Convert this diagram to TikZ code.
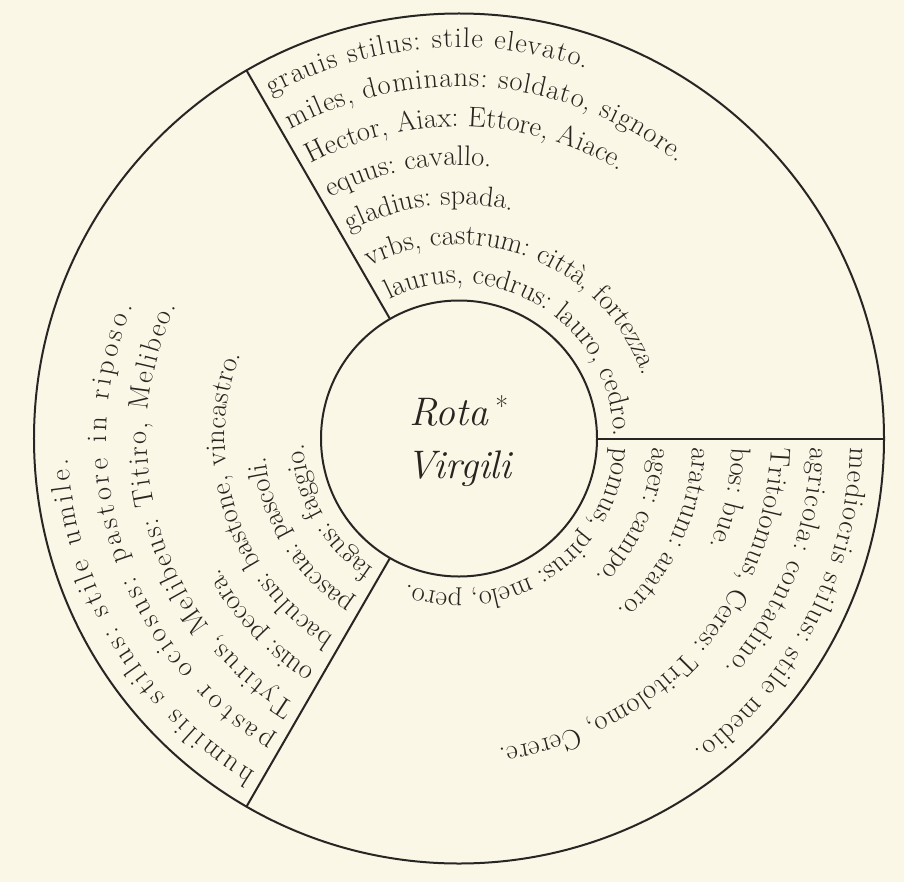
\documentclass[tikz,border=0pt]{standalone}
\usetikzlibrary{decorations.text}
\definecolor{paper}{RGB}{250,247,230}
\definecolor{ink}{RGB}{40,38,36}
\definecolor{txt}{RGB}{40,36,32}
\newcommand\lfont{\fontsize{28.5}{34}\selectfont}
% natural line: start sector angle, radius, text
\newcommand\arcline[3]{%
  \pgfmathsetmacro\sa{#1-515.7/#2}%
  \path[decorate,decoration={text along path,text={|\lfont\color{txt}|#3}}]
    (\sa:#2) arc[start angle=\sa,end angle=\sa-125,radius=#2];}
% justified line: start sector angle, radius, end angle, text
\newcommand\arcfit[4]{%
  \pgfmathsetmacro\sa{#1-515.7/#2}%
  \path[decorate,decoration={text along path,text align={fit to path},
      text={|\lfont\color{txt}|#4}}]
    (\sa:#2) arc[start angle=\sa,end angle=#3,radius=#2];}
\begin{document}
\begin{tikzpicture}[x=1bp,y=1bp,
  ring/.style={circle,draw=ink,line width=2bp,inner sep=0pt,outer sep=0pt},
  spoke/.style={draw=ink,line width=2bp},
  title/.style={font=\fontsize{40}{48}\selectfont\itshape,text=txt,inner sep=0pt,anchor=base}]
\fill[paper] (0,-882) rectangle (904,0);
\useasboundingbox (0,-882) rectangle (904,0);
\begin{scope}[shift={(459,-438.5)}]
  \node[ring,minimum size=850bp] (outer) at (0,0) {};
  \node[ring,minimum size=276bp] (inner) at (0,0) {};
  \draw[spoke] (inner.120) -- (outer.120);
  \draw[spoke] (inner.0) -- (outer.0);
  \draw[spoke] (inner.240) -- (outer.240);
  \node[title] (rota) at (0,13) {Rota\,\textsuperscript{\upshape *}};
  \node[title] (virgili) at (0,-40) {Virgili};
  % top sector
  \arcfit{120}{391}{71}{grauis stilus: stile elevato.}
  \arcfit{120}{352}{51.5}{miles, dominans: soldato, signore.}
  \arcfit{120}{312}{59}{Hector, Aiax: Ettore, Aiace.}
  \arcline{120}{273}{equus: cavallo.}
  \arcline{120}{234}{gladius: spada.}
  \arcline{120}{194}{vrbs, castrum: città, fortezza.}
  \arcline{120}{155}{laurus, cedrus: lauro, cedro.}
  % right sector
  \arcfit{0}{391}{-53}{mediocris stilus: stile medio.}
  \arcfit{0}{352}{-40.8}{agricola: contadino.}
  \arcfit{0}{312}{-82.7}{Tritolomus, Ceres: Tritolomo, Cerere.}
  \arcline{0}{273}{bos: bue.}
  \arcline{0}{234}{aratrum: aratro.}
  \arcline{0}{194}{ager: campo.}
  \arcline{0}{155}{pomus, pirus: melo, pero.}
  % left sector
  \arcfit{240}{391}{183}{humilis stilus: stile umile.}
  \arcfit{240}{352}{158}{pastor ociosus: pastore in riposo.}
  \arcfit{240}{312}{155}{Tytirus, Melibeus: Titiro, Melibeo.}
  \arcline{240}{273}{ouis: pecora.}
  \arcfit{240}{234}{159}{baculus: bastone, vincastro.}
  \arcline{240}{194}{pascua: pascoli.}
  \arcline{240}{155}{fagus: faggio.}
\end{scope}
\end{tikzpicture}
\end{document}
